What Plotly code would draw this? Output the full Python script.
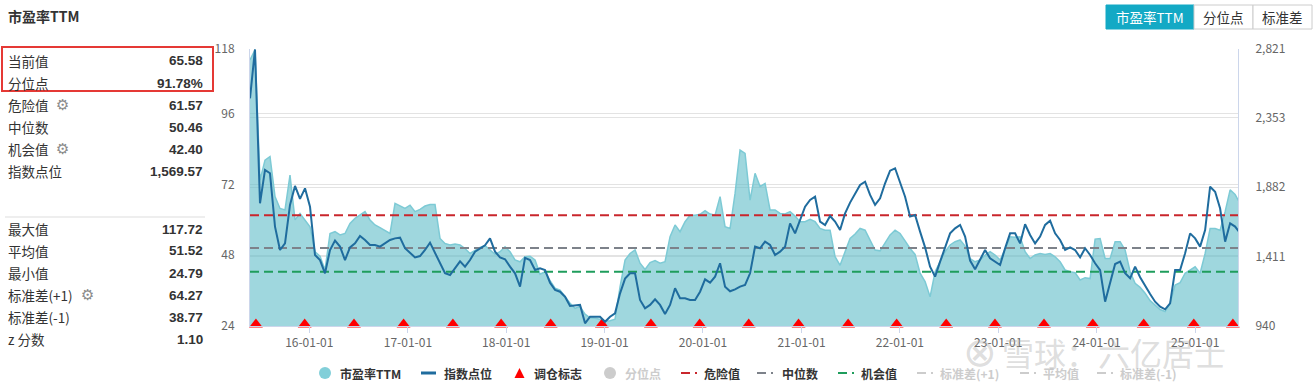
import pandas as pd
import plotly.graph_objects as go

# ---------------- data ----------------
START_DATE = "2015-05-26"
END_DATE = "2025-06-09"
SAMPLE_STEP_HOURS = 445.44

PE_TTM = [
    114.3, 117.7, 73.5, 80.3, 81.5, 67.9, 63.9, 63.4, 75.2, 60.0,
    62.2, 60.0, 57.7, 49.2, 47.7, 43.0, 55.4, 56.0, 54.9, 55.4,
    58.8, 60.5, 61.6, 62.8, 60.0, 58.3, 57.4, 56.5, 55.4, 65.6,
    64.8, 63.9, 65.0, 62.8, 63.6, 64.7, 65.2, 65.2, 53.7, 52.0,
    51.5, 51.8, 51.5, 50.3, 48.6, 49.8, 50.7, 51.3, 49.8, 48.3,
    49.2, 50.9, 49.2, 46.4, 45.8, 47.5, 47.7, 46.4, 41.6, 42.4,
    39.4, 36.8, 36.2, 33.9, 31.7, 30.0, 30.6, 28.0, 26.8, 26.6,
    26.3, 25.7, 25.8, 26.3, 37.3, 46.4, 48.6, 49.8, 45.3, 43.2,
    45.5, 46.2, 45.3, 45.8, 54.3, 58.3, 56.0, 59.4, 61.6, 61.6,
    61.9, 63.1, 62.0, 61.6, 67.9, 57.7, 57.1, 69.0, 83.7, 82.6,
    66.7, 75.8, 71.3, 72.4, 63.4, 63.4, 62.2, 62.0, 62.8, 61.3,
    59.4, 59.4, 60.2, 59.4, 57.1, 56.5, 56.5, 47.5, 44.6, 49.2,
    53.7, 55.2, 57.1, 56.5, 52.9, 49.8, 49.5, 52.0, 54.9, 56.5,
    55.4, 52.9, 50.3, 48.3, 41.9, 39.1, 33.9, 42.4, 45.8, 49.2,
    51.5, 52.6, 53.2, 51.1, 46.9, 45.8, 46.4, 48.1, 49.2, 48.1,
    46.4, 50.0, 54.3, 54.1, 54.3, 49.2, 46.9, 48.1, 48.6, 48.3,
    48.6, 47.5, 45.8, 43.0, 42.4, 42.1, 39.6, 40.4, 40.1, 53.5,
    53.7, 46.9, 46.9, 52.6, 52.6, 49.8, 42.4, 38.5, 37.1, 35.1,
    32.6, 31.1, 29.6, 28.9, 31.7, 37.9, 38.7, 41.9, 43.0, 44.1,
    41.9, 48.6, 57.1, 57.1, 56.5, 62.8, 70.2, 68.6, 65.58,
]

INDEX_POINTS = [
    2486, 2818, 1773, 2000, 1977, 1615, 1456, 1501, 1762, 1891,
    1803, 1875, 1750, 1422, 1388, 1298, 1456, 1520, 1479, 1388,
    1474, 1501, 1551, 1524, 1490, 1490, 1479, 1501, 1524, 1535,
    1540, 1468, 1434, 1406, 1415, 1456, 1506, 1434, 1361, 1298,
    1286, 1332, 1379, 1343, 1388, 1445, 1468, 1488, 1535, 1445,
    1406, 1393, 1343, 1298, 1207, 1403, 1388, 1320, 1332, 1320,
    1234, 1185, 1173, 1139, 1076, 1077, 1083, 958, 1003, 1003,
    1003, 969, 1003, 1026, 1162, 1262, 1298, 1298, 1117, 1060,
    1083, 1121, 1083, 1022, 1083, 1196, 1128, 1128, 1117, 1117,
    1173, 1257, 1234, 1275, 1366, 1207, 1176, 1189, 1207, 1219,
    1298, 1479, 1468, 1513, 1490, 1422, 1445, 1479, 1637, 1569,
    1660, 1750, 1796, 1818, 1649, 1626, 1687, 1649, 1592, 1705,
    1778, 1837, 1898, 1920, 1830, 1762, 1807, 1909, 1995, 2011,
    1920, 1818, 1683, 1694, 1581, 1474, 1343, 1275, 1377, 1468,
    1569, 1603, 1626, 1547, 1384, 1325, 1388, 1456, 1400, 1377,
    1354, 1468, 1569, 1569, 1501, 1631, 1558, 1501, 1547, 1626,
    1655, 1569, 1524, 1456, 1474, 1456, 1406, 1468, 1422, 1366,
    1320, 1105, 1230, 1361, 1377, 1298, 1264, 1343, 1271, 1212,
    1157, 1105, 1071, 1053, 1094, 1320, 1320, 1434, 1569, 1535,
    1479, 1592, 1886, 1852, 1738, 1513, 1637, 1615, 1569.57,
]

REBALANCE_DATES = [
    "2015-06-17", "2015-12-15", "2016-06-15", "2016-12-16", "2017-06-17",
    "2017-12-13", "2018-06-15", "2018-12-22", "2019-06-22", "2019-12-20",
    "2020-06-19", "2020-12-21", "2021-06-23", "2021-12-20", "2022-06-22",
    "2022-12-20", "2023-06-20", "2023-12-18", "2024-06-24", "2024-12-27",
    "2025-05-21",
]

DANGER_VALUE = 61.57
MEDIAN_VALUE = 50.46
CHANCE_VALUE = 42.40

LEFT_TICKS = [24, 48, 72, 96, 118]
RIGHT_TICKS = [940, 1411, 1882, 2353, 2821]
X_TICKS = ["2016-01-01", "2017-01-01", "2018-01-01", "2019-01-01", "2020-01-01",
           "2021-01-01", "2022-01-01", "2023-01-01", "2024-01-01", "2025-01-01"]

STATS_TOP_LABELS = ["当前值", "分位点", "危险值", "中位数", "机会值", "指数点位"]
STATS_TOP_VALUES = ["65.58", "91.78%", "61.57", "50.46", "42.40", "1,569.57"]
STATS_BOTTOM_LABELS = ["最大值", "平均值", "最小值", "标准差(+1)", "标准差(-1)", "z 分数"]
STATS_BOTTOM_VALUES = ["117.72", "51.52", "24.79", "64.27", "38.77", "1.10"]

BUTTONS = ["市盈率TTM", "分位点", "标准差"]

# ---------------- layout geometry ----------------
W, H = 1315, 392
L, R, T, B = 250, 1238, 49, 326
CJK = "Noto Sans CJK SC"
NUM = "Liberation Sans, Arial, Noto Sans CJK SC"
TRI_Y = 24.5   # marker baseline just on the x axis


def px(x):
    return (x - L) / (R - L)


def py(y):
    return (B - y) / (B - T)


dates = pd.date_range(start=START_DATE, periods=len(PE_TTM),
                      freq=pd.Timedelta(hours=SAMPLE_STEP_HOURS))

PE_LINE = "#7dcad5"
PE_FILL = "rgba(95,188,200,0.6)"
IDX_COLOR = "#1f6c9e"
RED_D = "#c9262c"
GRAY_D = "#7d828a"
GREEN_D = "#1f9d5c"

fig = go.Figure()

fig.add_trace(go.Scatter(x=dates, y=PE_TTM, mode="lines", yaxis="y",
                         line=dict(color=PE_LINE, width=1.5),
                         fill="tozeroy", fillcolor=PE_FILL,
                         hoverinfo="skip", showlegend=False))

for val, col in [(DANGER_VALUE, RED_D), (MEDIAN_VALUE, GRAY_D), (CHANCE_VALUE, GREEN_D)]:
    fig.add_trace(go.Scatter(x=[START_DATE, END_DATE], y=[val, val], mode="lines",
                             yaxis="y", line=dict(color=col, width=2, dash="9px,5px"),
                             hoverinfo="skip", showlegend=False))

fig.add_trace(go.Scatter(x=REBALANCE_DATES, y=[TRI_Y] * len(REBALANCE_DATES),
                         mode="markers", yaxis="y", cliponaxis=False,
                         marker=dict(symbol="triangle-up", size=12, color="#ff0000"),
                         hoverinfo="skip", showlegend=False))

fig.add_trace(go.Scatter(x=dates, y=INDEX_POINTS, mode="lines", yaxis="y2",
                         line=dict(color=IDX_COLOR, width=2),
                         hoverinfo="skip", showlegend=False))

axis_line = "#ccd6eb"
grid = "#e3e3e3"
tickfont = dict(family=CJK, size=12, color="#666666")

fig.update_layout(
    width=W, height=H, autosize=False,
    margin=dict(l=L, r=W - R, t=T, b=H - B, pad=0),
    paper_bgcolor="white", plot_bgcolor="white",
    font=dict(family=CJK, color="#333333"),
    xaxis=dict(type="date", range=[START_DATE, END_DATE], tickvals=X_TICKS,
               tickformat="%y-%m-%d", showgrid=False, showline=True,
               linecolor=axis_line, ticks="outside", ticklen=6, tickcolor=axis_line,
               tickfont=tickfont, zeroline=False),
    yaxis=dict(range=[LEFT_TICKS[0], LEFT_TICKS[-1]], tickvals=LEFT_TICKS,
               ticktext=[str(v) for v in LEFT_TICKS], showgrid=True, gridcolor=grid,
               showline=True, linecolor=axis_line, ticks="outside", ticklen=12,
               tickcolor="rgba(0,0,0,0)", tickfont=tickfont, zeroline=False),
    yaxis2=dict(range=[RIGHT_TICKS[0], RIGHT_TICKS[-1]], tickvals=RIGHT_TICKS,
                ticktext=[f"{v:,}" for v in RIGHT_TICKS], overlaying="y", side="right",
                showgrid=True, gridcolor=grid, showline=True, linecolor=axis_line,
                ticks="outside", ticklen=14, tickcolor="rgba(0,0,0,0)",
                tickfont=tickfont, zeroline=False),
    showlegend=False,
)

ann = []
shapes = []

# title
ann.append(dict(text="<b>市盈率TTM</b>", x=px(6), y=py(16), xanchor="left", yanchor="middle",
                font=dict(family=CJK, size=14, color="#333333")))

# stats panel
top_rows = [61, 83, 105, 127, 149, 171]
bot_rows = [229, 251, 273, 295, 317, 339]
for labels, values, rows in [(STATS_TOP_LABELS, STATS_TOP_VALUES, top_rows),
                             (STATS_BOTTOM_LABELS, STATS_BOTTOM_VALUES, bot_rows)]:
    for lab, val, yy in zip(labels, values, rows):
        ann.append(dict(text=lab, x=px(6), y=py(yy), xanchor="left", yanchor="middle",
                        font=dict(family=CJK, size=13.5, color="#333333")))
        ann.append(dict(text=f"<b>{val}</b>", x=px(205), y=py(yy), xanchor="right",
                        yanchor="middle", font=dict(family=NUM, size=13.5, color="#333333")))

for gx, gy in [(62, 105), (62, 149), (87, 295)]:
    ann.append(dict(text="⚙", x=px(gx), y=py(gy), xanchor="center", yanchor="middle",
                    font=dict(family="DejaVu Sans", size=15, color="#8a8a8a")))

shapes.append(dict(type="line", xref="paper", yref="paper", x0=px(5), x1=px(205),
                   y0=py(217), y1=py(217), line=dict(color="#dddddd", width=1)))
shapes.append(dict(type="rect", xref="paper", yref="paper", x0=px(2), x1=px(213),
                   y0=py(47), y1=py(91), line=dict(color="#e53935", width=2)))

# buttons
btn_x = [(1106, 1194), (1194, 1253), (1253, 1312)]
for i, (lab, (x0, x1)) in enumerate(zip(BUTTONS, btn_x)):
    sel = i == 0
    shapes.append(dict(type="rect", xref="paper", yref="paper", x0=px(x0), x1=px(x1),
                       y0=py(5), y1=py(29),
                       fillcolor="#13a9c5" if sel else "white",
                       line=dict(color="#13a9c5" if sel else "#cccccc", width=1)))
    ann.append(dict(text=lab, x=px((x0 + x1) / 2), y=py(17), xanchor="center",
                    yanchor="middle",
                    font=dict(family=CJK, size=13.5, color="white" if sel else "#333333")))

# legend (drawn manually)
LY = 373
ACTIVE = "#333333"
MUTED = "#cccccc"


def leg_text(x, text, color):
    ann.append(dict(text=f"<b>{text}</b>", x=px(x), y=py(LY), xanchor="left",
                    yanchor="middle", font=dict(family=CJK, size=12, color=color)))


def leg_circle(cx, color):
    shapes.append(dict(type="circle", xref="paper", yref="paper", x0=px(cx - 6),
                       x1=px(cx + 6), y0=py(LY - 6), y1=py(LY + 6),
                       fillcolor=color, line=dict(width=0)))


def leg_dashdot(x0, color):
    shapes.append(dict(type="line", xref="paper", yref="paper", x0=px(x0), x1=px(x0 + 9),
                       y0=py(LY), y1=py(LY), line=dict(color=color, width=2)))
    shapes.append(dict(type="line", xref="paper", yref="paper", x0=px(x0 + 14),
                       x1=px(x0 + 16), y0=py(LY), y1=py(LY), line=dict(color=color, width=2)))


leg_circle(325, "#82cfd9")
leg_text(338, "市盈率TTM", ACTIVE)
shapes.append(dict(type="line", xref="paper", yref="paper", x0=px(421), x1=px(436),
                   y0=py(LY), y1=py(LY), line=dict(color=IDX_COLOR, width=3)))
leg_text(442, "指数点位", ACTIVE)
shapes.append(dict(type="path", xref="paper", yref="paper",
                   path=f"M{px(514.5)},{py(378)} L{px(524.5)},{py(378)} L{px(519.5)},{py(368)} Z",
                   fillcolor="#ff0000", line=dict(width=0)))
leg_text(532, "调仓标志", ACTIVE)
leg_circle(610, MUTED)
leg_text(623, "分位点", MUTED)
leg_dashdot(681, RED_D)
leg_text(702, "危险值", ACTIVE)
leg_dashdot(757, GRAY_D)
leg_text(780, "中位数", ACTIVE)
leg_dashdot(838, GREEN_D)
leg_text(859, "机会值", ACTIVE)
leg_dashdot(917, MUTED)
leg_text(938, "标准差(+1)", MUTED)
leg_dashdot(1020, MUTED)
leg_text(1041, "平均值", MUTED)
leg_dashdot(1097, MUTED)
leg_text(1118, "标准差(-1)", MUTED)

# watermark
ann.append(dict(text="⊗", x=px(980), y=py(352), xanchor="center", yanchor="middle",
                font=dict(family="DejaVu Sans", size=40, color="rgba(170,170,170,0.4)")))
ann.append(dict(text="雪球：六亿居士", x=px(1000), y=py(352), xanchor="left", yanchor="middle",
                font=dict(family=CJK, size=32, color="rgba(170,170,170,0.4)")))

for a in ann:
    a.setdefault("xref", "paper")
    a.setdefault("yref", "paper")
    a.setdefault("showarrow", False)

fig.update_layout(annotations=ann, shapes=shapes)

fig.write_html("out.html", config={"displayModeBar": False},
               post_script="document.body.style.margin='0';")
